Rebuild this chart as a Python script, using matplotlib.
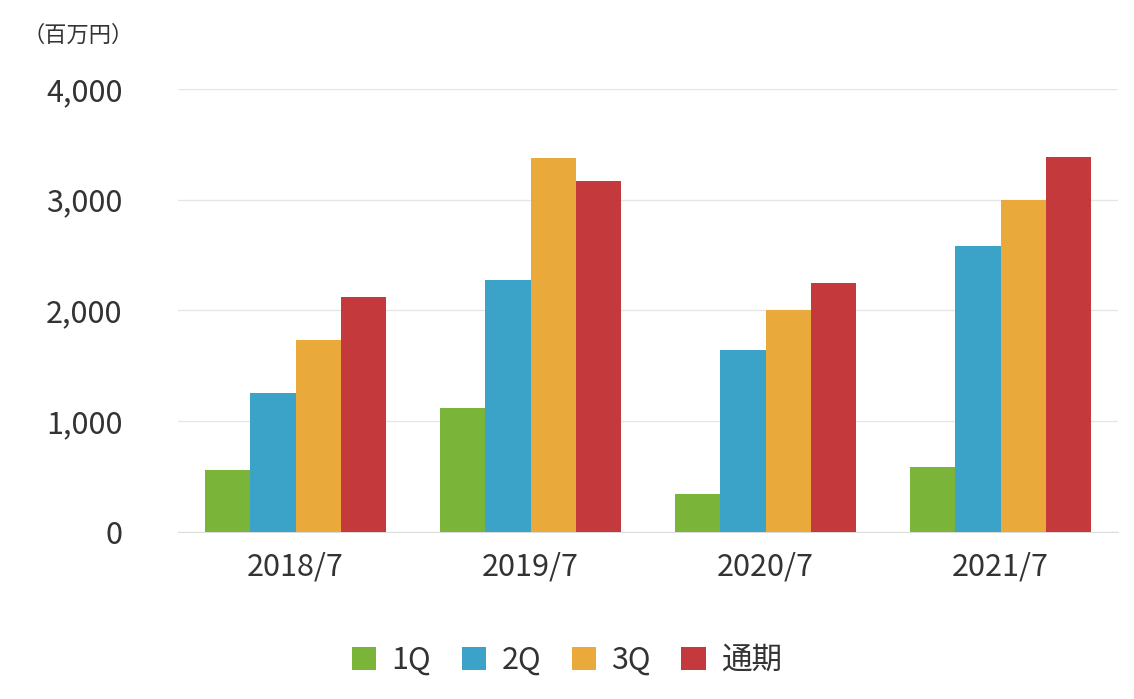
import matplotlib.pyplot as plt
import numpy as np

plt.rcParams["font.family"] = ["Noto Sans CJK JP"]

categories = ["2018/7", "2019/7", "2020/7", "2021/7"]
series_names = ["1Q", "2Q", "3Q", "通期"]
q1 = [560, 1120, 343, 587]
q2 = [1255, 2275, 1643, 2582]
q3 = [1734, 3377, 2004, 2998]
full_year = [2122, 3169, 2248, 3386]
colors = ["#7ab539", "#3ba3c8", "#e9a93b", "#c4393b"]

fig = plt.figure(figsize=(11.34, 6.99), dpi=100)
ax = fig.add_axes([0.157, 0.239, 0.829, 0.634])

x = np.arange(len(categories))
width = 0.192
for i, (vals, name) in enumerate(zip([q1, q2, q3, full_year], series_names)):
    ax.bar(x + (i - 1.5) * width, vals, width, color=colors[i], label=name, zorder=3)

ax.set_xlim(-0.5, 3.5)
ax.set_ylim(0, 4000)
ax.set_yticks(range(0, 4001, 1000))
ax.set_yticklabels(["0", "1,000", "2,000", "3,000", "4,000"])
ax.set_xticks(x)
ax.set_xticklabels(categories)
ax.tick_params(axis="both", length=0, labelsize=22, colors="#333333")
ax.tick_params(axis="x", pad=14)
ax.tick_params(axis="y", pad=40)
for lbl in ax.get_yticklabels():
    lbl.set_horizontalalignment("right")
ax.grid(axis="y", color="#e6e6e6", linewidth=1, zorder=0)
ax.set_axisbelow(True)
for s in ["top", "right", "left"]:
    ax.spines[s].set_visible(False)
ax.spines["bottom"].set_color("#dddddd")

fig.text(0.02, 0.95, "（百万円）", fontsize=16, color="#333333", va="center")
fig.legend(loc="center", bbox_to_anchor=(0.5, 0.055), ncol=4, frameon=False,
           fontsize=22, handlelength=0.8, handleheight=0.8, columnspacing=1.0,
           handletextpad=0.5, labelcolor="#333333")

fig.savefig("out.png")
